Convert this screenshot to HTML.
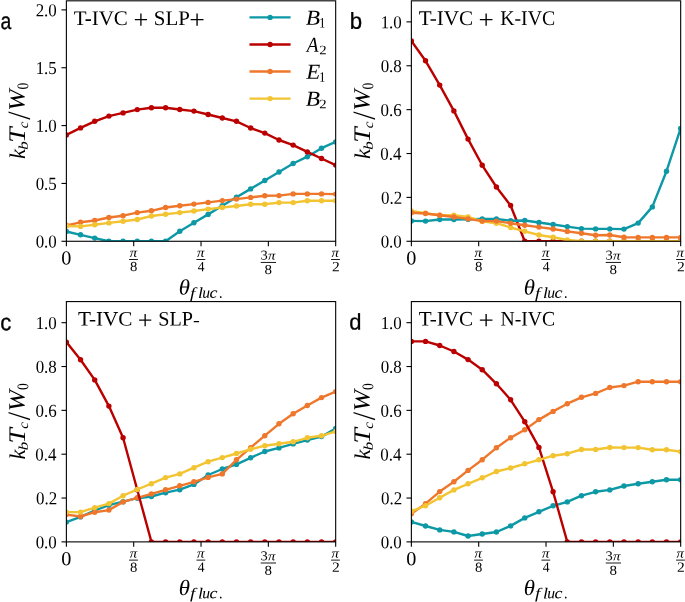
<!DOCTYPE html>
<html><head><meta charset="utf-8"><style>html,body{margin:0;padding:0;background:#fff;} svg{display:block;will-change:transform;} text{text-rendering:geometricPrecision;}</style></head>
<body><svg width="685" height="602" viewBox="0 0 685 602">
<defs><clipPath id="cpa"><rect x="66.38" y="0.82" width="269.30" height="240.46"/></clipPath><clipPath id="cpb"><rect x="411.37" y="0.82" width="269.30" height="240.46"/></clipPath><clipPath id="cpc"><rect x="66.38" y="301.58" width="269.30" height="240.30"/></clipPath><clipPath id="cpd"><rect x="411.37" y="301.58" width="269.30" height="240.30"/></clipPath></defs>
<rect width="685" height="602" fill="#fff"/>
<g clip-path="url(#cpa)">
<polyline points="66.38,231.50 80.55,234.80 94.73,238.10 108.90,241.28 123.07,241.28 137.25,241.28 151.42,241.28 165.60,241.28 179.77,231.20 193.94,222.80 208.12,214.40 222.29,205.80 236.46,197.30 250.64,188.90 264.81,180.50 278.99,172.00 293.16,163.50 307.33,156.70 321.51,148.20 335.68,141.90" fill="none" stroke="#0d98a6" stroke-width="2.4" stroke-linejoin="round" stroke-linecap="butt"/>
<g fill="#0d98a6"><circle cx="66.38" cy="231.50" r="2.7"/><circle cx="80.55" cy="234.80" r="2.7"/><circle cx="94.73" cy="238.10" r="2.7"/><circle cx="108.90" cy="241.28" r="2.7"/><circle cx="123.07" cy="241.28" r="2.7"/><circle cx="137.25" cy="241.28" r="2.7"/><circle cx="151.42" cy="241.28" r="2.7"/><circle cx="165.60" cy="241.28" r="2.7"/><circle cx="179.77" cy="231.20" r="2.7"/><circle cx="193.94" cy="222.80" r="2.7"/><circle cx="208.12" cy="214.40" r="2.7"/><circle cx="222.29" cy="205.80" r="2.7"/><circle cx="236.46" cy="197.30" r="2.7"/><circle cx="250.64" cy="188.90" r="2.7"/><circle cx="264.81" cy="180.50" r="2.7"/><circle cx="278.99" cy="172.00" r="2.7"/><circle cx="293.16" cy="163.50" r="2.7"/><circle cx="307.33" cy="156.70" r="2.7"/><circle cx="321.51" cy="148.20" r="2.7"/><circle cx="335.68" cy="141.90" r="2.7"/></g>
<polyline points="66.38,135.00 80.55,127.90 94.73,121.30 108.90,116.10 123.07,112.90 137.25,109.60 151.42,107.80 165.60,107.80 179.77,109.50 193.94,111.10 208.12,114.50 222.29,118.00 236.46,121.30 250.64,128.00 264.81,133.10 278.99,140.00 293.16,145.10 307.33,151.90 321.51,158.50 335.68,165.10" fill="none" stroke="#bb0000" stroke-width="2.4" stroke-linejoin="round" stroke-linecap="butt"/>
<g fill="#bb0000"><circle cx="66.38" cy="135.00" r="2.7"/><circle cx="80.55" cy="127.90" r="2.7"/><circle cx="94.73" cy="121.30" r="2.7"/><circle cx="108.90" cy="116.10" r="2.7"/><circle cx="123.07" cy="112.90" r="2.7"/><circle cx="137.25" cy="109.60" r="2.7"/><circle cx="151.42" cy="107.80" r="2.7"/><circle cx="165.60" cy="107.80" r="2.7"/><circle cx="179.77" cy="109.50" r="2.7"/><circle cx="193.94" cy="111.10" r="2.7"/><circle cx="208.12" cy="114.50" r="2.7"/><circle cx="222.29" cy="118.00" r="2.7"/><circle cx="236.46" cy="121.30" r="2.7"/><circle cx="250.64" cy="128.00" r="2.7"/><circle cx="264.81" cy="133.10" r="2.7"/><circle cx="278.99" cy="140.00" r="2.7"/><circle cx="293.16" cy="145.10" r="2.7"/><circle cx="307.33" cy="151.90" r="2.7"/><circle cx="321.51" cy="158.50" r="2.7"/><circle cx="335.68" cy="165.10" r="2.7"/></g>
<polyline points="66.38,225.30 80.55,222.30 94.73,220.50 108.90,217.50 123.07,215.70 137.25,212.60 151.42,210.80 165.60,207.50 179.77,205.70 193.94,204.10 208.12,202.40 222.29,200.60 236.46,199.10 250.64,197.40 264.81,195.70 278.99,195.60 293.16,193.90 307.33,193.90 321.51,193.90 335.68,194.10" fill="none" stroke="#ef772b" stroke-width="2.4" stroke-linejoin="round" stroke-linecap="butt"/>
<g fill="#ef772b"><circle cx="66.38" cy="225.30" r="2.7"/><circle cx="80.55" cy="222.30" r="2.7"/><circle cx="94.73" cy="220.50" r="2.7"/><circle cx="108.90" cy="217.50" r="2.7"/><circle cx="123.07" cy="215.70" r="2.7"/><circle cx="137.25" cy="212.60" r="2.7"/><circle cx="151.42" cy="210.80" r="2.7"/><circle cx="165.60" cy="207.50" r="2.7"/><circle cx="179.77" cy="205.70" r="2.7"/><circle cx="193.94" cy="204.10" r="2.7"/><circle cx="208.12" cy="202.40" r="2.7"/><circle cx="222.29" cy="200.60" r="2.7"/><circle cx="236.46" cy="199.10" r="2.7"/><circle cx="250.64" cy="197.40" r="2.7"/><circle cx="264.81" cy="195.70" r="2.7"/><circle cx="278.99" cy="195.60" r="2.7"/><circle cx="293.16" cy="193.90" r="2.7"/><circle cx="307.33" cy="193.90" r="2.7"/><circle cx="321.51" cy="193.90" r="2.7"/><circle cx="335.68" cy="194.10" r="2.7"/></g>
<polyline points="66.38,226.00 80.55,226.40 94.73,224.80 108.90,222.90 123.07,221.30 137.25,219.50 151.42,216.00 165.60,214.30 179.77,212.60 193.94,211.00 208.12,209.10 222.29,207.50 236.46,206.00 250.64,204.20 264.81,204.20 278.99,202.60 293.16,202.60 307.33,200.70 321.51,200.70 335.68,200.70" fill="none" stroke="#f3c432" stroke-width="2.4" stroke-linejoin="round" stroke-linecap="butt"/>
<g fill="#f3c432"><circle cx="66.38" cy="226.00" r="2.7"/><circle cx="80.55" cy="226.40" r="2.7"/><circle cx="94.73" cy="224.80" r="2.7"/><circle cx="108.90" cy="222.90" r="2.7"/><circle cx="123.07" cy="221.30" r="2.7"/><circle cx="137.25" cy="219.50" r="2.7"/><circle cx="151.42" cy="216.00" r="2.7"/><circle cx="165.60" cy="214.30" r="2.7"/><circle cx="179.77" cy="212.60" r="2.7"/><circle cx="193.94" cy="211.00" r="2.7"/><circle cx="208.12" cy="209.10" r="2.7"/><circle cx="222.29" cy="207.50" r="2.7"/><circle cx="236.46" cy="206.00" r="2.7"/><circle cx="250.64" cy="204.20" r="2.7"/><circle cx="264.81" cy="204.20" r="2.7"/><circle cx="278.99" cy="202.60" r="2.7"/><circle cx="293.16" cy="202.60" r="2.7"/><circle cx="307.33" cy="200.70" r="2.7"/><circle cx="321.51" cy="200.70" r="2.7"/><circle cx="335.68" cy="200.70" r="2.7"/></g>
</g>
<rect x="66.38" y="0.82" width="269.30" height="240.46" fill="none" stroke="#000" stroke-width="1.1"/>
<line x1="61.48" y1="241.28" x2="66.38" y2="241.28" stroke="#000" stroke-width="1.1"/>
<line x1="61.48" y1="183.43" x2="66.38" y2="183.43" stroke="#000" stroke-width="1.1"/>
<line x1="61.48" y1="125.58" x2="66.38" y2="125.58" stroke="#000" stroke-width="1.1"/>
<line x1="61.48" y1="67.73" x2="66.38" y2="67.73" stroke="#000" stroke-width="1.1"/>
<line x1="61.48" y1="9.88" x2="66.38" y2="9.88" stroke="#000" stroke-width="1.1"/>
<line x1="66.38" y1="241.28" x2="66.38" y2="246.18" stroke="#000" stroke-width="1.1"/>
<line x1="133.70" y1="241.28" x2="133.70" y2="246.18" stroke="#000" stroke-width="1.1"/>
<line x1="201.03" y1="241.28" x2="201.03" y2="246.18" stroke="#000" stroke-width="1.1"/>
<line x1="268.36" y1="241.28" x2="268.36" y2="246.18" stroke="#000" stroke-width="1.1"/>
<line x1="335.68" y1="241.28" x2="335.68" y2="246.18" stroke="#000" stroke-width="1.1"/>
<g clip-path="url(#cpb)">
<polyline points="411.37,41.00 425.54,60.80 439.72,85.10 453.89,110.90 468.06,139.10 482.24,165.30 496.41,187.00 510.59,205.50 524.76,241.28 538.93,241.28 553.11,241.28 567.28,241.28 581.45,241.28 595.63,241.28 609.80,241.28 623.98,241.28 638.15,241.28 652.32,241.28 666.50,241.28 680.67,241.28" fill="none" stroke="#bb0000" stroke-width="2.4" stroke-linejoin="round" stroke-linecap="butt"/>
<g fill="#bb0000"><circle cx="411.37" cy="41.00" r="2.7"/><circle cx="425.54" cy="60.80" r="2.7"/><circle cx="439.72" cy="85.10" r="2.7"/><circle cx="453.89" cy="110.90" r="2.7"/><circle cx="468.06" cy="139.10" r="2.7"/><circle cx="482.24" cy="165.30" r="2.7"/><circle cx="496.41" cy="187.00" r="2.7"/><circle cx="510.59" cy="205.50" r="2.7"/><circle cx="524.76" cy="241.28" r="2.7"/><circle cx="538.93" cy="241.28" r="2.7"/><circle cx="553.11" cy="241.28" r="2.7"/><circle cx="567.28" cy="241.28" r="2.7"/><circle cx="581.45" cy="241.28" r="2.7"/><circle cx="595.63" cy="241.28" r="2.7"/><circle cx="609.80" cy="241.28" r="2.7"/><circle cx="623.98" cy="241.28" r="2.7"/><circle cx="638.15" cy="241.28" r="2.7"/><circle cx="652.32" cy="241.28" r="2.7"/><circle cx="666.50" cy="241.28" r="2.7"/><circle cx="680.67" cy="241.28" r="2.7"/></g>
<polyline points="411.37,220.90 425.54,221.10 439.72,219.50 453.89,219.50 468.06,219.20 482.24,219.00 496.41,219.00 510.59,220.70 524.76,220.50 538.93,222.50 553.11,224.50 567.28,226.60 581.45,228.60 595.63,228.90 609.80,228.90 623.98,229.10 638.15,223.10 652.32,206.90 666.50,171.20 680.67,128.50" fill="none" stroke="#0d98a6" stroke-width="2.4" stroke-linejoin="round" stroke-linecap="butt"/>
<g fill="#0d98a6"><circle cx="411.37" cy="220.90" r="2.7"/><circle cx="425.54" cy="221.10" r="2.7"/><circle cx="439.72" cy="219.50" r="2.7"/><circle cx="453.89" cy="219.50" r="2.7"/><circle cx="468.06" cy="219.20" r="2.7"/><circle cx="482.24" cy="219.00" r="2.7"/><circle cx="496.41" cy="219.00" r="2.7"/><circle cx="510.59" cy="220.70" r="2.7"/><circle cx="524.76" cy="220.50" r="2.7"/><circle cx="538.93" cy="222.50" r="2.7"/><circle cx="553.11" cy="224.50" r="2.7"/><circle cx="567.28" cy="226.60" r="2.7"/><circle cx="581.45" cy="228.60" r="2.7"/><circle cx="595.63" cy="228.90" r="2.7"/><circle cx="609.80" cy="228.90" r="2.7"/><circle cx="623.98" cy="229.10" r="2.7"/><circle cx="638.15" cy="223.10" r="2.7"/><circle cx="652.32" cy="206.90" r="2.7"/><circle cx="666.50" cy="171.20" r="2.7"/><circle cx="680.67" cy="128.50" r="2.7"/></g>
<polyline points="411.37,210.90 425.54,213.20 439.72,215.20 453.89,215.30 468.06,217.00 482.24,221.40 496.41,223.20 510.59,227.50 524.76,231.30 538.93,235.00 553.11,237.20 567.28,240.00 581.45,241.28 595.63,241.28 609.80,241.28 623.98,241.28 638.15,241.28 652.32,241.28 666.50,241.28 680.67,241.28" fill="none" stroke="#f3c432" stroke-width="2.4" stroke-linejoin="round" stroke-linecap="butt"/>
<g fill="#f3c432"><circle cx="411.37" cy="210.90" r="2.7"/><circle cx="425.54" cy="213.20" r="2.7"/><circle cx="439.72" cy="215.20" r="2.7"/><circle cx="453.89" cy="215.30" r="2.7"/><circle cx="468.06" cy="217.00" r="2.7"/><circle cx="482.24" cy="221.40" r="2.7"/><circle cx="496.41" cy="223.20" r="2.7"/><circle cx="510.59" cy="227.50" r="2.7"/><circle cx="524.76" cy="231.30" r="2.7"/><circle cx="538.93" cy="235.00" r="2.7"/><circle cx="553.11" cy="237.20" r="2.7"/><circle cx="567.28" cy="240.00" r="2.7"/><circle cx="581.45" cy="241.28" r="2.7"/><circle cx="595.63" cy="241.28" r="2.7"/><circle cx="609.80" cy="241.28" r="2.7"/><circle cx="623.98" cy="241.28" r="2.7"/><circle cx="638.15" cy="241.28" r="2.7"/><circle cx="652.32" cy="241.28" r="2.7"/><circle cx="666.50" cy="241.28" r="2.7"/><circle cx="680.67" cy="241.28" r="2.7"/></g>
<polyline points="411.37,212.75 425.54,213.50 439.72,215.30 453.89,217.00 468.06,218.90 482.24,221.10 496.41,221.10 510.59,223.20 524.76,225.20 538.93,227.10 553.11,229.00 567.28,231.40 581.45,233.20 595.63,235.20 609.80,235.00 623.98,237.30 638.15,237.40 652.32,237.40 666.50,237.40 680.67,237.40" fill="none" stroke="#ef772b" stroke-width="2.4" stroke-linejoin="round" stroke-linecap="butt"/>
<g fill="#ef772b"><circle cx="411.37" cy="212.75" r="2.7"/><circle cx="425.54" cy="213.50" r="2.7"/><circle cx="439.72" cy="215.30" r="2.7"/><circle cx="453.89" cy="217.00" r="2.7"/><circle cx="468.06" cy="218.90" r="2.7"/><circle cx="482.24" cy="221.10" r="2.7"/><circle cx="496.41" cy="221.10" r="2.7"/><circle cx="510.59" cy="223.20" r="2.7"/><circle cx="524.76" cy="225.20" r="2.7"/><circle cx="538.93" cy="227.10" r="2.7"/><circle cx="553.11" cy="229.00" r="2.7"/><circle cx="567.28" cy="231.40" r="2.7"/><circle cx="581.45" cy="233.20" r="2.7"/><circle cx="595.63" cy="235.20" r="2.7"/><circle cx="609.80" cy="235.00" r="2.7"/><circle cx="623.98" cy="237.30" r="2.7"/><circle cx="638.15" cy="237.40" r="2.7"/><circle cx="652.32" cy="237.40" r="2.7"/><circle cx="666.50" cy="237.40" r="2.7"/><circle cx="680.67" cy="237.40" r="2.7"/></g>
</g>
<rect x="411.37" y="0.82" width="269.30" height="240.46" fill="none" stroke="#000" stroke-width="1.1"/>
<line x1="406.47" y1="241.28" x2="411.37" y2="241.28" stroke="#000" stroke-width="1.1"/>
<line x1="406.47" y1="197.40" x2="411.37" y2="197.40" stroke="#000" stroke-width="1.1"/>
<line x1="406.47" y1="153.52" x2="411.37" y2="153.52" stroke="#000" stroke-width="1.1"/>
<line x1="406.47" y1="109.64" x2="411.37" y2="109.64" stroke="#000" stroke-width="1.1"/>
<line x1="406.47" y1="65.76" x2="411.37" y2="65.76" stroke="#000" stroke-width="1.1"/>
<line x1="406.47" y1="21.88" x2="411.37" y2="21.88" stroke="#000" stroke-width="1.1"/>
<line x1="411.37" y1="241.28" x2="411.37" y2="246.18" stroke="#000" stroke-width="1.1"/>
<line x1="478.69" y1="241.28" x2="478.69" y2="246.18" stroke="#000" stroke-width="1.1"/>
<line x1="546.02" y1="241.28" x2="546.02" y2="246.18" stroke="#000" stroke-width="1.1"/>
<line x1="613.35" y1="241.28" x2="613.35" y2="246.18" stroke="#000" stroke-width="1.1"/>
<line x1="680.67" y1="241.28" x2="680.67" y2="246.18" stroke="#000" stroke-width="1.1"/>
<g clip-path="url(#cpc)">
<polyline points="66.38,522.10 80.55,516.90 94.73,510.50 108.90,505.20 123.07,501.70 137.25,498.20 151.42,496.50 165.60,492.70 179.77,489.70 193.94,484.40 208.12,475.00 222.29,469.00 236.46,464.40 250.64,457.80 264.81,451.50 278.99,447.90 293.16,443.90 307.33,440.10 321.51,436.60 335.68,428.50" fill="none" stroke="#0d98a6" stroke-width="2.4" stroke-linejoin="round" stroke-linecap="butt"/>
<g fill="#0d98a6"><circle cx="66.38" cy="522.10" r="2.7"/><circle cx="80.55" cy="516.90" r="2.7"/><circle cx="94.73" cy="510.50" r="2.7"/><circle cx="108.90" cy="505.20" r="2.7"/><circle cx="123.07" cy="501.70" r="2.7"/><circle cx="137.25" cy="498.20" r="2.7"/><circle cx="151.42" cy="496.50" r="2.7"/><circle cx="165.60" cy="492.70" r="2.7"/><circle cx="179.77" cy="489.70" r="2.7"/><circle cx="193.94" cy="484.40" r="2.7"/><circle cx="208.12" cy="475.00" r="2.7"/><circle cx="222.29" cy="469.00" r="2.7"/><circle cx="236.46" cy="464.40" r="2.7"/><circle cx="250.64" cy="457.80" r="2.7"/><circle cx="264.81" cy="451.50" r="2.7"/><circle cx="278.99" cy="447.90" r="2.7"/><circle cx="293.16" cy="443.90" r="2.7"/><circle cx="307.33" cy="440.10" r="2.7"/><circle cx="321.51" cy="436.60" r="2.7"/><circle cx="335.68" cy="428.50" r="2.7"/></g>
<polyline points="66.38,514.60 80.55,516.50 94.73,512.20 108.90,510.10 123.07,501.90 137.25,497.80 151.42,493.90 165.60,489.80 179.77,485.80 193.94,481.80 208.12,477.40 222.29,473.90 236.46,459.80 250.64,447.60 264.81,435.70 278.99,423.80 293.16,413.70 307.33,405.50 321.51,397.60 335.68,391.60" fill="none" stroke="#ef772b" stroke-width="2.4" stroke-linejoin="round" stroke-linecap="butt"/>
<g fill="#ef772b"><circle cx="66.38" cy="514.60" r="2.7"/><circle cx="80.55" cy="516.50" r="2.7"/><circle cx="94.73" cy="512.20" r="2.7"/><circle cx="108.90" cy="510.10" r="2.7"/><circle cx="123.07" cy="501.90" r="2.7"/><circle cx="137.25" cy="497.80" r="2.7"/><circle cx="151.42" cy="493.90" r="2.7"/><circle cx="165.60" cy="489.80" r="2.7"/><circle cx="179.77" cy="485.80" r="2.7"/><circle cx="193.94" cy="481.80" r="2.7"/><circle cx="208.12" cy="477.40" r="2.7"/><circle cx="222.29" cy="473.90" r="2.7"/><circle cx="236.46" cy="459.80" r="2.7"/><circle cx="250.64" cy="447.60" r="2.7"/><circle cx="264.81" cy="435.70" r="2.7"/><circle cx="278.99" cy="423.80" r="2.7"/><circle cx="293.16" cy="413.70" r="2.7"/><circle cx="307.33" cy="405.50" r="2.7"/><circle cx="321.51" cy="397.60" r="2.7"/><circle cx="335.68" cy="391.60" r="2.7"/></g>
<polyline points="66.38,342.10 80.55,359.80 94.73,379.90 108.90,406.10 123.07,437.70 137.25,489.80 151.42,541.88 165.60,541.88 179.77,541.88 193.94,541.88 208.12,541.88 222.29,541.88 236.46,541.88 250.64,541.88 264.81,541.88 278.99,541.88 293.16,541.88 307.33,541.88 321.51,541.88 335.68,541.88" fill="none" stroke="#bb0000" stroke-width="2.4" stroke-linejoin="round" stroke-linecap="butt"/>
<g fill="#bb0000"><circle cx="66.38" cy="342.10" r="2.7"/><circle cx="80.55" cy="359.80" r="2.7"/><circle cx="94.73" cy="379.90" r="2.7"/><circle cx="108.90" cy="406.10" r="2.7"/><circle cx="123.07" cy="437.70" r="2.7"/><circle cx="137.25" cy="489.80" r="2.7"/><circle cx="151.42" cy="541.88" r="2.7"/><circle cx="165.60" cy="541.88" r="2.7"/><circle cx="179.77" cy="541.88" r="2.7"/><circle cx="193.94" cy="541.88" r="2.7"/><circle cx="208.12" cy="541.88" r="2.7"/><circle cx="222.29" cy="541.88" r="2.7"/><circle cx="236.46" cy="541.88" r="2.7"/><circle cx="250.64" cy="541.88" r="2.7"/><circle cx="264.81" cy="541.88" r="2.7"/><circle cx="278.99" cy="541.88" r="2.7"/><circle cx="293.16" cy="541.88" r="2.7"/><circle cx="307.33" cy="541.88" r="2.7"/><circle cx="321.51" cy="541.88" r="2.7"/><circle cx="335.68" cy="541.88" r="2.7"/></g>
<polyline points="66.38,512.10 80.55,512.10 94.73,507.60 108.90,503.60 123.07,495.70 137.25,489.50 151.42,483.70 165.60,477.60 179.77,473.90 193.94,467.70 208.12,461.70 222.29,457.60 236.46,453.50 250.64,449.30 264.81,445.70 278.99,443.80 293.16,441.80 307.33,437.80 321.51,435.80 335.68,431.40" fill="none" stroke="#f3c432" stroke-width="2.4" stroke-linejoin="round" stroke-linecap="butt"/>
<g fill="#f3c432"><circle cx="66.38" cy="512.10" r="2.7"/><circle cx="80.55" cy="512.10" r="2.7"/><circle cx="94.73" cy="507.60" r="2.7"/><circle cx="108.90" cy="503.60" r="2.7"/><circle cx="123.07" cy="495.70" r="2.7"/><circle cx="137.25" cy="489.50" r="2.7"/><circle cx="151.42" cy="483.70" r="2.7"/><circle cx="165.60" cy="477.60" r="2.7"/><circle cx="179.77" cy="473.90" r="2.7"/><circle cx="193.94" cy="467.70" r="2.7"/><circle cx="208.12" cy="461.70" r="2.7"/><circle cx="222.29" cy="457.60" r="2.7"/><circle cx="236.46" cy="453.50" r="2.7"/><circle cx="250.64" cy="449.30" r="2.7"/><circle cx="264.81" cy="445.70" r="2.7"/><circle cx="278.99" cy="443.80" r="2.7"/><circle cx="293.16" cy="441.80" r="2.7"/><circle cx="307.33" cy="437.80" r="2.7"/><circle cx="321.51" cy="435.80" r="2.7"/><circle cx="335.68" cy="431.40" r="2.7"/></g>
</g>
<rect x="66.38" y="301.58" width="269.30" height="240.30" fill="none" stroke="#000" stroke-width="1.1"/>
<line x1="61.48" y1="541.88" x2="66.38" y2="541.88" stroke="#000" stroke-width="1.1"/>
<line x1="61.48" y1="498.04" x2="66.38" y2="498.04" stroke="#000" stroke-width="1.1"/>
<line x1="61.48" y1="454.20" x2="66.38" y2="454.20" stroke="#000" stroke-width="1.1"/>
<line x1="61.48" y1="410.36" x2="66.38" y2="410.36" stroke="#000" stroke-width="1.1"/>
<line x1="61.48" y1="366.52" x2="66.38" y2="366.52" stroke="#000" stroke-width="1.1"/>
<line x1="61.48" y1="322.68" x2="66.38" y2="322.68" stroke="#000" stroke-width="1.1"/>
<line x1="66.38" y1="541.88" x2="66.38" y2="546.78" stroke="#000" stroke-width="1.1"/>
<line x1="133.70" y1="541.88" x2="133.70" y2="546.78" stroke="#000" stroke-width="1.1"/>
<line x1="201.03" y1="541.88" x2="201.03" y2="546.78" stroke="#000" stroke-width="1.1"/>
<line x1="268.36" y1="541.88" x2="268.36" y2="546.78" stroke="#000" stroke-width="1.1"/>
<line x1="335.68" y1="541.88" x2="335.68" y2="546.78" stroke="#000" stroke-width="1.1"/>
<g clip-path="url(#cpd)">
<polyline points="411.37,521.95 425.54,526.00 439.72,529.90 453.89,531.90 468.06,536.00 482.24,534.00 496.41,532.00 510.59,525.90 524.76,517.90 538.93,511.80 553.11,505.80 567.28,501.90 581.45,495.70 595.63,491.80 609.80,489.90 623.98,486.00 638.15,483.70 652.32,481.80 666.50,479.70 680.67,479.70" fill="none" stroke="#0d98a6" stroke-width="2.4" stroke-linejoin="round" stroke-linecap="butt"/>
<g fill="#0d98a6"><circle cx="411.37" cy="521.95" r="2.7"/><circle cx="425.54" cy="526.00" r="2.7"/><circle cx="439.72" cy="529.90" r="2.7"/><circle cx="453.89" cy="531.90" r="2.7"/><circle cx="468.06" cy="536.00" r="2.7"/><circle cx="482.24" cy="534.00" r="2.7"/><circle cx="496.41" cy="532.00" r="2.7"/><circle cx="510.59" cy="525.90" r="2.7"/><circle cx="524.76" cy="517.90" r="2.7"/><circle cx="538.93" cy="511.80" r="2.7"/><circle cx="553.11" cy="505.80" r="2.7"/><circle cx="567.28" cy="501.90" r="2.7"/><circle cx="581.45" cy="495.70" r="2.7"/><circle cx="595.63" cy="491.80" r="2.7"/><circle cx="609.80" cy="489.90" r="2.7"/><circle cx="623.98" cy="486.00" r="2.7"/><circle cx="638.15" cy="483.70" r="2.7"/><circle cx="652.32" cy="481.80" r="2.7"/><circle cx="666.50" cy="479.70" r="2.7"/><circle cx="680.67" cy="479.70" r="2.7"/></g>
<polyline points="411.37,513.80 425.54,503.60 439.72,491.60 453.89,481.80 468.06,470.40 482.24,459.70 496.41,447.80 510.59,437.70 524.76,429.80 538.93,419.60 553.11,411.40 567.28,403.70 581.45,397.30 595.63,393.40 609.80,387.50 623.98,385.60 638.15,381.70 652.32,381.70 666.50,381.70 680.67,381.70" fill="none" stroke="#ef772b" stroke-width="2.4" stroke-linejoin="round" stroke-linecap="butt"/>
<g fill="#ef772b"><circle cx="411.37" cy="513.80" r="2.7"/><circle cx="425.54" cy="503.60" r="2.7"/><circle cx="439.72" cy="491.60" r="2.7"/><circle cx="453.89" cy="481.80" r="2.7"/><circle cx="468.06" cy="470.40" r="2.7"/><circle cx="482.24" cy="459.70" r="2.7"/><circle cx="496.41" cy="447.80" r="2.7"/><circle cx="510.59" cy="437.70" r="2.7"/><circle cx="524.76" cy="429.80" r="2.7"/><circle cx="538.93" cy="419.60" r="2.7"/><circle cx="553.11" cy="411.40" r="2.7"/><circle cx="567.28" cy="403.70" r="2.7"/><circle cx="581.45" cy="397.30" r="2.7"/><circle cx="595.63" cy="393.40" r="2.7"/><circle cx="609.80" cy="387.50" r="2.7"/><circle cx="623.98" cy="385.60" r="2.7"/><circle cx="638.15" cy="381.70" r="2.7"/><circle cx="652.32" cy="381.70" r="2.7"/><circle cx="666.50" cy="381.70" r="2.7"/><circle cx="680.67" cy="381.70" r="2.7"/></g>
<polyline points="411.37,341.40 425.54,341.40 439.72,345.50 453.89,351.50 468.06,359.60 482.24,369.70 496.41,383.80 510.59,399.80 524.76,421.70 538.93,447.40 553.11,491.80 567.28,541.88 581.45,541.88 595.63,541.88 609.80,541.88 623.98,541.88 638.15,541.88 652.32,541.88 666.50,541.88 680.67,541.88" fill="none" stroke="#bb0000" stroke-width="2.4" stroke-linejoin="round" stroke-linecap="butt"/>
<g fill="#bb0000"><circle cx="411.37" cy="341.40" r="2.7"/><circle cx="425.54" cy="341.40" r="2.7"/><circle cx="439.72" cy="345.50" r="2.7"/><circle cx="453.89" cy="351.50" r="2.7"/><circle cx="468.06" cy="359.60" r="2.7"/><circle cx="482.24" cy="369.70" r="2.7"/><circle cx="496.41" cy="383.80" r="2.7"/><circle cx="510.59" cy="399.80" r="2.7"/><circle cx="524.76" cy="421.70" r="2.7"/><circle cx="538.93" cy="447.40" r="2.7"/><circle cx="553.11" cy="491.80" r="2.7"/><circle cx="567.28" cy="541.88" r="2.7"/><circle cx="581.45" cy="541.88" r="2.7"/><circle cx="595.63" cy="541.88" r="2.7"/><circle cx="609.80" cy="541.88" r="2.7"/><circle cx="623.98" cy="541.88" r="2.7"/><circle cx="638.15" cy="541.88" r="2.7"/><circle cx="652.32" cy="541.88" r="2.7"/><circle cx="666.50" cy="541.88" r="2.7"/><circle cx="680.67" cy="541.88" r="2.7"/></g>
<polyline points="411.37,511.30 425.54,505.70 439.72,497.80 453.89,489.90 468.06,483.80 482.24,477.80 496.41,471.50 510.59,468.00 524.76,463.80 538.93,459.80 553.11,455.70 567.28,453.70 581.45,449.50 595.63,449.50 609.80,447.50 623.98,447.60 638.15,447.60 652.32,449.80 666.50,449.80 680.67,451.60" fill="none" stroke="#f3c432" stroke-width="2.4" stroke-linejoin="round" stroke-linecap="butt"/>
<g fill="#f3c432"><circle cx="411.37" cy="511.30" r="2.7"/><circle cx="425.54" cy="505.70" r="2.7"/><circle cx="439.72" cy="497.80" r="2.7"/><circle cx="453.89" cy="489.90" r="2.7"/><circle cx="468.06" cy="483.80" r="2.7"/><circle cx="482.24" cy="477.80" r="2.7"/><circle cx="496.41" cy="471.50" r="2.7"/><circle cx="510.59" cy="468.00" r="2.7"/><circle cx="524.76" cy="463.80" r="2.7"/><circle cx="538.93" cy="459.80" r="2.7"/><circle cx="553.11" cy="455.70" r="2.7"/><circle cx="567.28" cy="453.70" r="2.7"/><circle cx="581.45" cy="449.50" r="2.7"/><circle cx="595.63" cy="449.50" r="2.7"/><circle cx="609.80" cy="447.50" r="2.7"/><circle cx="623.98" cy="447.60" r="2.7"/><circle cx="638.15" cy="447.60" r="2.7"/><circle cx="652.32" cy="449.80" r="2.7"/><circle cx="666.50" cy="449.80" r="2.7"/><circle cx="680.67" cy="451.60" r="2.7"/></g>
</g>
<rect x="411.37" y="301.58" width="269.30" height="240.30" fill="none" stroke="#000" stroke-width="1.1"/>
<line x1="406.47" y1="541.88" x2="411.37" y2="541.88" stroke="#000" stroke-width="1.1"/>
<line x1="406.47" y1="498.04" x2="411.37" y2="498.04" stroke="#000" stroke-width="1.1"/>
<line x1="406.47" y1="454.20" x2="411.37" y2="454.20" stroke="#000" stroke-width="1.1"/>
<line x1="406.47" y1="410.36" x2="411.37" y2="410.36" stroke="#000" stroke-width="1.1"/>
<line x1="406.47" y1="366.52" x2="411.37" y2="366.52" stroke="#000" stroke-width="1.1"/>
<line x1="406.47" y1="322.68" x2="411.37" y2="322.68" stroke="#000" stroke-width="1.1"/>
<line x1="411.37" y1="541.88" x2="411.37" y2="546.78" stroke="#000" stroke-width="1.1"/>
<line x1="478.69" y1="541.88" x2="478.69" y2="546.78" stroke="#000" stroke-width="1.1"/>
<line x1="546.02" y1="541.88" x2="546.02" y2="546.78" stroke="#000" stroke-width="1.1"/>
<line x1="613.35" y1="541.88" x2="613.35" y2="546.78" stroke="#000" stroke-width="1.1"/>
<line x1="680.67" y1="541.88" x2="680.67" y2="546.78" stroke="#000" stroke-width="1.1"/>
<text transform="matrix(0.8093,0.0005,0,0.9848,0.473,29.014)" font-family="'Liberation Sans', sans-serif" font-size="24" fill="#000" stroke="#000" stroke-width="0.3">a</text>
<text transform="matrix(0.9259,0.0005,0,0.9580,349.706,28.820)" font-family="'Liberation Sans', sans-serif" font-size="24" fill="#000" stroke="#000" stroke-width="0.3">b</text>
<text transform="matrix(0.9291,0.0005,0,0.9697,0.358,330.217)" font-family="'Liberation Sans', sans-serif" font-size="24" fill="#000" stroke="#000" stroke-width="0.3">c</text>
<text transform="matrix(0.9158,0.0005,0,0.9347,349.271,329.514)" font-family="'Liberation Sans', sans-serif" font-size="24" fill="#000" stroke="#000" stroke-width="0.3">d</text>
<text transform="matrix(1.0243,0.0005,0,1.0128,73.785,25.100)" font-family="'Liberation Serif', serif" font-size="20.5" fill="#000">T-IVC</text>
<text transform="matrix(1.2798,0.0005,0,1.2818,133.388,28.346)" font-family="'Liberation Serif', serif" font-size="20.5" fill="#000">+</text>
<text transform="matrix(1.0208,0.0005,0,1.0128,153.740,25.100)" font-family="'Liberation Serif', serif" font-size="20.5" fill="#000">SLP</text>
<text transform="matrix(1.3533,0.0005,0,1.2818,189.313,28.346)" font-family="'Liberation Serif', serif" font-size="20.5" fill="#000">+</text>
<text transform="matrix(1.0301,0.0005,0,1.0203,418.783,25.100)" font-family="'Liberation Serif', serif" font-size="20.5" fill="#000">T-IVC</text>
<text transform="matrix(1.3218,0.0005,0,1.2818,478.545,28.346)" font-family="'Liberation Serif', serif" font-size="20.5" fill="#000">+</text>
<text transform="matrix(0.9648,0.0005,0,1.0203,500.206,25.100)" font-family="'Liberation Serif', serif" font-size="20.5" fill="#000">K-IVC</text>
<text transform="matrix(1.0340,0.0005,0,0.9980,77.882,325.600)" font-family="'Liberation Serif', serif" font-size="20.5" fill="#000">T-IVC</text>
<text transform="matrix(1.2798,0.0005,0,1.2818,137.788,328.846)" font-family="'Liberation Serif', serif" font-size="20.5" fill="#000">+</text>
<text transform="matrix(0.9846,0.0005,0,0.9980,158.188,325.600)" font-family="'Liberation Serif', serif" font-size="20.5" fill="#000">SLP</text>
<text transform="matrix(0.9940,0.0005,0,0.9106,193.087,325.933)" font-family="'Liberation Serif', serif" font-size="20.5" fill="#000">-</text>
<text transform="matrix(1.0301,0.0005,0,1.0054,418.783,325.600)" font-family="'Liberation Serif', serif" font-size="20.5" fill="#000">T-IVC</text>
<text transform="matrix(1.3218,0.0005,0,1.2818,478.545,328.846)" font-family="'Liberation Serif', serif" font-size="20.5" fill="#000">+</text>
<text transform="matrix(0.9612,0.0005,0,1.0054,500.407,325.600)" font-family="'Liberation Serif', serif" font-size="20.5" fill="#000">N-IVC</text>
<text transform="matrix(1.1166,0.0005,0,1.0142,305.766,24.750)" font-family="'Liberation Serif', serif" font-style="italic" font-size="21" fill="#000">B</text>
<text transform="matrix(0.9256,0.0005,0,1.0173,319.099,27.600)" font-family="'Liberation Serif', serif" font-size="14" fill="#000">1</text>
<text transform="matrix(0.9204,0.0005,0,1.0065,306.863,51.674)" font-family="'Liberation Serif', serif" font-style="italic" font-size="21" fill="#000">A</text>
<text transform="matrix(1.0582,0.0005,0,0.9307,319.307,54.230)" font-family="'Liberation Serif', serif" font-size="14" fill="#000">2</text>
<text transform="matrix(1.0929,0.0005,0,1.0142,306.244,78.810)" font-family="'Liberation Serif', serif" font-style="italic" font-size="21" fill="#000">E</text>
<text transform="matrix(0.9256,0.0005,0,1.0173,319.099,81.660)" font-family="'Liberation Serif', serif" font-size="14" fill="#000">1</text>
<text transform="matrix(1.1166,0.0005,0,1.0142,305.766,105.840)" font-family="'Liberation Serif', serif" font-style="italic" font-size="21" fill="#000">B</text>
<text transform="matrix(1.0582,0.0005,0,0.9307,319.307,108.290)" font-family="'Liberation Serif', serif" font-size="14" fill="#000">2</text>
<text transform="matrix(0.9313,0.0005,0,1.0019,35.637,247.556)" font-family="'Liberation Serif', serif" font-size="18.2" fill="#000">0.0</text>
<text transform="matrix(0.9313,0.0005,0,1.0019,35.637,189.706)" font-family="'Liberation Serif', serif" font-size="18.2" fill="#000">0.5</text>
<text transform="matrix(0.9313,0.0005,0,1.0019,35.637,131.856)" font-family="'Liberation Serif', serif" font-size="18.2" fill="#000">1.0</text>
<text transform="matrix(0.9313,0.0005,0,1.0019,35.637,73.961)" font-family="'Liberation Serif', serif" font-size="18.2" fill="#000">1.5</text>
<text transform="matrix(0.9313,0.0005,0,1.0019,35.637,16.156)" font-family="'Liberation Serif', serif" font-size="18.2" fill="#000">2.0</text>
<text transform="matrix(0.9313,0.0005,0,1.0019,380.627,247.556)" font-family="'Liberation Serif', serif" font-size="18.2" fill="#000">0.0</text>
<text transform="matrix(0.9313,0.0005,0,1.0019,380.966,203.676)" font-family="'Liberation Serif', serif" font-size="18.2" fill="#000">0.2</text>
<text transform="matrix(0.9313,0.0005,0,1.0019,380.288,159.796)" font-family="'Liberation Serif', serif" font-size="18.2" fill="#000">0.4</text>
<text transform="matrix(0.9313,0.0005,0,1.0019,380.542,115.916)" font-family="'Liberation Serif', serif" font-size="18.2" fill="#000">0.6</text>
<text transform="matrix(0.9313,0.0005,0,1.0019,380.627,72.036)" font-family="'Liberation Serif', serif" font-size="18.2" fill="#000">0.8</text>
<text transform="matrix(0.9313,0.0005,0,1.0019,380.627,28.156)" font-family="'Liberation Serif', serif" font-size="18.2" fill="#000">1.0</text>
<text transform="matrix(0.9313,0.0005,0,1.0019,35.637,548.156)" font-family="'Liberation Serif', serif" font-size="18.2" fill="#000">0.0</text>
<text transform="matrix(0.9313,0.0005,0,1.0019,35.976,504.316)" font-family="'Liberation Serif', serif" font-size="18.2" fill="#000">0.2</text>
<text transform="matrix(0.9313,0.0005,0,1.0019,35.298,460.476)" font-family="'Liberation Serif', serif" font-size="18.2" fill="#000">0.4</text>
<text transform="matrix(0.9313,0.0005,0,1.0019,35.552,416.636)" font-family="'Liberation Serif', serif" font-size="18.2" fill="#000">0.6</text>
<text transform="matrix(0.9313,0.0005,0,1.0019,35.637,372.796)" font-family="'Liberation Serif', serif" font-size="18.2" fill="#000">0.8</text>
<text transform="matrix(0.9313,0.0005,0,1.0019,35.637,328.956)" font-family="'Liberation Serif', serif" font-size="18.2" fill="#000">1.0</text>
<text transform="matrix(0.9313,0.0005,0,1.0019,380.627,548.156)" font-family="'Liberation Serif', serif" font-size="18.2" fill="#000">0.0</text>
<text transform="matrix(0.9313,0.0005,0,1.0019,380.966,504.316)" font-family="'Liberation Serif', serif" font-size="18.2" fill="#000">0.2</text>
<text transform="matrix(0.9313,0.0005,0,1.0019,380.288,460.476)" font-family="'Liberation Serif', serif" font-size="18.2" fill="#000">0.4</text>
<text transform="matrix(0.9313,0.0005,0,1.0019,380.542,416.636)" font-family="'Liberation Serif', serif" font-size="18.2" fill="#000">0.6</text>
<text transform="matrix(0.9313,0.0005,0,1.0019,380.627,372.796)" font-family="'Liberation Serif', serif" font-size="18.2" fill="#000">0.8</text>
<text transform="matrix(0.9313,0.0005,0,1.0019,380.627,328.956)" font-family="'Liberation Serif', serif" font-size="18.2" fill="#000">1.0</text>
<text transform="matrix(1.0116,0.0005,0,1.0000,61.172,264.600)" font-family="'Liberation Serif', serif" font-size="20" fill="#000">0</text>
<text transform="matrix(1.0577,0.0005,0,0.9271,129.631,256.870)" font-family="'Liberation Serif', serif" font-style="italic" font-size="14" fill="#000">π</text>
<text transform="matrix(1.0465,0.0005,0,0.9841,130.092,271.062)" font-family="'Liberation Serif', serif" font-size="14" fill="#000">8</text>
<text transform="matrix(1.0577,0.0005,0,0.9271,196.956,256.870)" font-family="'Liberation Serif', serif" font-style="italic" font-size="14" fill="#000">π</text>
<text transform="matrix(0.9677,0.0005,0,1.0065,197.659,271.200)" font-family="'Liberation Serif', serif" font-size="14" fill="#000">4</text>
<text transform="matrix(1.0577,0.0005,0,0.9271,331.606,256.870)" font-family="'Liberation Serif', serif" font-style="italic" font-size="14" fill="#000">π</text>
<text transform="matrix(1.1111,0.0005,0,1.0065,331.958,271.200)" font-family="'Liberation Serif', serif" font-size="14" fill="#000">2</text>
<text transform="matrix(1.0374,0.0005,0,0.9595,260.451,259.566)" font-family="'Liberation Serif', serif" font-size="14" fill="#000">3</text>
<text transform="matrix(1.0577,0.0005,0,0.9119,267.931,259.572)" font-family="'Liberation Serif', serif" font-style="italic" font-size="14" fill="#000">π</text>
<text transform="matrix(1.0714,0.0005,0,0.9735,264.530,274.064)" font-family="'Liberation Serif', serif" font-size="14" fill="#000">8</text>
<text transform="matrix(1.0374,0.0005,0,0.9923,178.673,294.482)" font-family="'Liberation Serif', serif" font-style="italic" font-size="22" fill="#000">θ</text>
<text transform="matrix(1.2814,0.0005,0,0.9909,189.908,297.679)" font-family="'Liberation Serif', serif" font-style="italic" font-size="15" fill="#000">f</text>
<text transform="matrix(1.2033,0.0005,0,1.0264,197.898,297.900)" font-family="'Liberation Serif', serif" font-style="italic" font-size="15" fill="#000">l</text>
<text transform="matrix(1.0442,0.0005,0,1.0638,202.217,297.740)" font-family="'Liberation Serif', serif" font-style="italic" font-size="15" fill="#000">u</text>
<text transform="matrix(1.2016,0.0005,0,1.0556,209.559,297.742)" font-family="'Liberation Serif', serif" font-style="italic" font-size="15" fill="#000">c</text>
<text transform="matrix(1.0000,0.0005,0,1.0556,219.200,297.662)" font-family="'Liberation Serif', serif" font-style="italic" font-size="15" fill="#000">.</text>
<text transform="matrix(0.0005,-1.0240,1.0203,0,24.900,158.963)" font-family="'Liberation Serif', serif" font-style="italic" font-size="22" fill="#000">k</text>
<text transform="matrix(0.0005,-1.1801,0.8889,0,27.867,149.920)" font-family="'Liberation Serif', serif" font-style="italic" font-size="15" fill="#000">b</text>
<text transform="matrix(0.0005,-1.2479,1.0826,0,25.100,142.785)" font-family="'Liberation Serif', serif" font-style="italic" font-size="22" fill="#000">T</text>
<text transform="matrix(0.0005,-1.0041,0.9167,0,28.062,128.152)" font-family="'Liberation Serif', serif" font-style="italic" font-size="15" fill="#000">c</text>
<text transform="matrix(0.0005,-1.3636,1.4654,0,29.678,119.700)" font-family="'Liberation Serif', serif" font-size="22" fill="#000">/</text>
<text transform="matrix(0.0005,-1.1619,1.0583,0,24.551,110.762)" font-family="'Liberation Serif', serif" font-style="italic" font-size="22" fill="#000">W</text>
<text transform="matrix(0.0005,-0.9147,1.0864,0,28.337,89.480)" font-family="'Liberation Serif', serif" font-size="15" fill="#000">0</text>
<text transform="matrix(1.0116,0.0005,0,1.0000,406.162,264.600)" font-family="'Liberation Serif', serif" font-size="20" fill="#000">0</text>
<text transform="matrix(1.0577,0.0005,0,0.9271,474.621,256.870)" font-family="'Liberation Serif', serif" font-style="italic" font-size="14" fill="#000">π</text>
<text transform="matrix(1.0465,0.0005,0,0.9841,475.082,271.062)" font-family="'Liberation Serif', serif" font-size="14" fill="#000">8</text>
<text transform="matrix(1.0577,0.0005,0,0.9271,541.946,256.870)" font-family="'Liberation Serif', serif" font-style="italic" font-size="14" fill="#000">π</text>
<text transform="matrix(0.9677,0.0005,0,1.0065,542.649,271.200)" font-family="'Liberation Serif', serif" font-size="14" fill="#000">4</text>
<text transform="matrix(1.0577,0.0005,0,0.9271,676.596,256.870)" font-family="'Liberation Serif', serif" font-style="italic" font-size="14" fill="#000">π</text>
<text transform="matrix(1.1111,0.0005,0,1.0065,676.948,271.200)" font-family="'Liberation Serif', serif" font-size="14" fill="#000">2</text>
<text transform="matrix(1.0374,0.0005,0,0.9595,605.441,259.566)" font-family="'Liberation Serif', serif" font-size="14" fill="#000">3</text>
<text transform="matrix(1.0577,0.0005,0,0.9119,612.921,259.572)" font-family="'Liberation Serif', serif" font-style="italic" font-size="14" fill="#000">π</text>
<text transform="matrix(1.0714,0.0005,0,0.9735,609.520,274.064)" font-family="'Liberation Serif', serif" font-size="14" fill="#000">8</text>
<text transform="matrix(1.0374,0.0005,0,0.9923,523.663,294.482)" font-family="'Liberation Serif', serif" font-style="italic" font-size="22" fill="#000">θ</text>
<text transform="matrix(1.2814,0.0005,0,0.9909,534.898,297.679)" font-family="'Liberation Serif', serif" font-style="italic" font-size="15" fill="#000">f</text>
<text transform="matrix(1.2033,0.0005,0,1.0264,542.888,297.900)" font-family="'Liberation Serif', serif" font-style="italic" font-size="15" fill="#000">l</text>
<text transform="matrix(1.0442,0.0005,0,1.0638,547.207,297.740)" font-family="'Liberation Serif', serif" font-style="italic" font-size="15" fill="#000">u</text>
<text transform="matrix(1.2016,0.0005,0,1.0556,554.549,297.742)" font-family="'Liberation Serif', serif" font-style="italic" font-size="15" fill="#000">c</text>
<text transform="matrix(1.0000,0.0005,0,1.0556,564.190,297.662)" font-family="'Liberation Serif', serif" font-style="italic" font-size="15" fill="#000">.</text>
<text transform="matrix(0.0005,-1.0240,1.0203,0,369.890,158.963)" font-family="'Liberation Serif', serif" font-style="italic" font-size="22" fill="#000">k</text>
<text transform="matrix(0.0005,-1.1801,0.8889,0,372.857,149.920)" font-family="'Liberation Serif', serif" font-style="italic" font-size="15" fill="#000">b</text>
<text transform="matrix(0.0005,-1.2479,1.0826,0,370.090,142.785)" font-family="'Liberation Serif', serif" font-style="italic" font-size="22" fill="#000">T</text>
<text transform="matrix(0.0005,-1.0041,0.9167,0,373.053,128.152)" font-family="'Liberation Serif', serif" font-style="italic" font-size="15" fill="#000">c</text>
<text transform="matrix(0.0005,-1.3636,1.4654,0,374.668,119.700)" font-family="'Liberation Serif', serif" font-size="22" fill="#000">/</text>
<text transform="matrix(0.0005,-1.1619,1.0583,0,369.541,110.762)" font-family="'Liberation Serif', serif" font-style="italic" font-size="22" fill="#000">W</text>
<text transform="matrix(0.0005,-0.9147,1.0864,0,373.327,89.480)" font-family="'Liberation Serif', serif" font-size="15" fill="#000">0</text>
<text transform="matrix(1.0116,0.0005,0,1.0000,61.172,565.200)" font-family="'Liberation Serif', serif" font-size="20" fill="#000">0</text>
<text transform="matrix(1.0577,0.0005,0,0.9271,129.631,557.470)" font-family="'Liberation Serif', serif" font-style="italic" font-size="14" fill="#000">π</text>
<text transform="matrix(1.0465,0.0005,0,0.9841,130.092,571.662)" font-family="'Liberation Serif', serif" font-size="14" fill="#000">8</text>
<text transform="matrix(1.0577,0.0005,0,0.9271,196.956,557.470)" font-family="'Liberation Serif', serif" font-style="italic" font-size="14" fill="#000">π</text>
<text transform="matrix(0.9677,0.0005,0,1.0065,197.659,571.800)" font-family="'Liberation Serif', serif" font-size="14" fill="#000">4</text>
<text transform="matrix(1.0577,0.0005,0,0.9271,331.606,557.470)" font-family="'Liberation Serif', serif" font-style="italic" font-size="14" fill="#000">π</text>
<text transform="matrix(1.1111,0.0005,0,1.0065,331.958,571.800)" font-family="'Liberation Serif', serif" font-size="14" fill="#000">2</text>
<text transform="matrix(1.0374,0.0005,0,0.9595,260.451,560.166)" font-family="'Liberation Serif', serif" font-size="14" fill="#000">3</text>
<text transform="matrix(1.0577,0.0005,0,0.9119,267.931,560.172)" font-family="'Liberation Serif', serif" font-style="italic" font-size="14" fill="#000">π</text>
<text transform="matrix(1.0714,0.0005,0,0.9735,264.530,574.664)" font-family="'Liberation Serif', serif" font-size="14" fill="#000">8</text>
<text transform="matrix(1.0374,0.0005,0,0.9923,178.673,595.082)" font-family="'Liberation Serif', serif" font-style="italic" font-size="22" fill="#000">θ</text>
<text transform="matrix(1.2814,0.0005,0,0.9909,189.908,598.279)" font-family="'Liberation Serif', serif" font-style="italic" font-size="15" fill="#000">f</text>
<text transform="matrix(1.2033,0.0005,0,1.0264,197.898,598.500)" font-family="'Liberation Serif', serif" font-style="italic" font-size="15" fill="#000">l</text>
<text transform="matrix(1.0442,0.0005,0,1.0638,202.217,598.340)" font-family="'Liberation Serif', serif" font-style="italic" font-size="15" fill="#000">u</text>
<text transform="matrix(1.2016,0.0005,0,1.0556,209.559,598.342)" font-family="'Liberation Serif', serif" font-style="italic" font-size="15" fill="#000">c</text>
<text transform="matrix(1.0000,0.0005,0,1.0556,219.200,598.263)" font-family="'Liberation Serif', serif" font-style="italic" font-size="15" fill="#000">.</text>
<text transform="matrix(0.0005,-1.0240,1.0203,0,24.900,459.563)" font-family="'Liberation Serif', serif" font-style="italic" font-size="22" fill="#000">k</text>
<text transform="matrix(0.0005,-1.1801,0.8889,0,27.867,450.520)" font-family="'Liberation Serif', serif" font-style="italic" font-size="15" fill="#000">b</text>
<text transform="matrix(0.0005,-1.2479,1.0826,0,25.100,443.385)" font-family="'Liberation Serif', serif" font-style="italic" font-size="22" fill="#000">T</text>
<text transform="matrix(0.0005,-1.0041,0.9167,0,28.062,428.752)" font-family="'Liberation Serif', serif" font-style="italic" font-size="15" fill="#000">c</text>
<text transform="matrix(0.0005,-1.3636,1.4654,0,29.678,420.300)" font-family="'Liberation Serif', serif" font-size="22" fill="#000">/</text>
<text transform="matrix(0.0005,-1.1619,1.0583,0,24.551,411.362)" font-family="'Liberation Serif', serif" font-style="italic" font-size="22" fill="#000">W</text>
<text transform="matrix(0.0005,-0.9147,1.0864,0,28.337,390.080)" font-family="'Liberation Serif', serif" font-size="15" fill="#000">0</text>
<text transform="matrix(1.0116,0.0005,0,1.0000,406.162,565.200)" font-family="'Liberation Serif', serif" font-size="20" fill="#000">0</text>
<text transform="matrix(1.0577,0.0005,0,0.9271,474.621,557.470)" font-family="'Liberation Serif', serif" font-style="italic" font-size="14" fill="#000">π</text>
<text transform="matrix(1.0465,0.0005,0,0.9841,475.082,571.662)" font-family="'Liberation Serif', serif" font-size="14" fill="#000">8</text>
<text transform="matrix(1.0577,0.0005,0,0.9271,541.946,557.470)" font-family="'Liberation Serif', serif" font-style="italic" font-size="14" fill="#000">π</text>
<text transform="matrix(0.9677,0.0005,0,1.0065,542.649,571.800)" font-family="'Liberation Serif', serif" font-size="14" fill="#000">4</text>
<text transform="matrix(1.0577,0.0005,0,0.9271,676.596,557.470)" font-family="'Liberation Serif', serif" font-style="italic" font-size="14" fill="#000">π</text>
<text transform="matrix(1.1111,0.0005,0,1.0065,676.948,571.800)" font-family="'Liberation Serif', serif" font-size="14" fill="#000">2</text>
<text transform="matrix(1.0374,0.0005,0,0.9595,605.441,560.166)" font-family="'Liberation Serif', serif" font-size="14" fill="#000">3</text>
<text transform="matrix(1.0577,0.0005,0,0.9119,612.921,560.172)" font-family="'Liberation Serif', serif" font-style="italic" font-size="14" fill="#000">π</text>
<text transform="matrix(1.0714,0.0005,0,0.9735,609.520,574.664)" font-family="'Liberation Serif', serif" font-size="14" fill="#000">8</text>
<text transform="matrix(1.0374,0.0005,0,0.9923,523.663,595.082)" font-family="'Liberation Serif', serif" font-style="italic" font-size="22" fill="#000">θ</text>
<text transform="matrix(1.2814,0.0005,0,0.9909,534.898,598.279)" font-family="'Liberation Serif', serif" font-style="italic" font-size="15" fill="#000">f</text>
<text transform="matrix(1.2033,0.0005,0,1.0264,542.888,598.500)" font-family="'Liberation Serif', serif" font-style="italic" font-size="15" fill="#000">l</text>
<text transform="matrix(1.0442,0.0005,0,1.0638,547.207,598.340)" font-family="'Liberation Serif', serif" font-style="italic" font-size="15" fill="#000">u</text>
<text transform="matrix(1.2016,0.0005,0,1.0556,554.549,598.342)" font-family="'Liberation Serif', serif" font-style="italic" font-size="15" fill="#000">c</text>
<text transform="matrix(1.0000,0.0005,0,1.0556,564.190,598.263)" font-family="'Liberation Serif', serif" font-style="italic" font-size="15" fill="#000">.</text>
<text transform="matrix(0.0005,-1.0240,1.0203,0,369.890,459.563)" font-family="'Liberation Serif', serif" font-style="italic" font-size="22" fill="#000">k</text>
<text transform="matrix(0.0005,-1.1801,0.8889,0,372.857,450.520)" font-family="'Liberation Serif', serif" font-style="italic" font-size="15" fill="#000">b</text>
<text transform="matrix(0.0005,-1.2479,1.0826,0,370.090,443.385)" font-family="'Liberation Serif', serif" font-style="italic" font-size="22" fill="#000">T</text>
<text transform="matrix(0.0005,-1.0041,0.9167,0,373.053,428.752)" font-family="'Liberation Serif', serif" font-style="italic" font-size="15" fill="#000">c</text>
<text transform="matrix(0.0005,-1.3636,1.4654,0,374.668,420.300)" font-family="'Liberation Serif', serif" font-size="22" fill="#000">/</text>
<text transform="matrix(0.0005,-1.1619,1.0583,0,369.541,411.362)" font-family="'Liberation Serif', serif" font-style="italic" font-size="22" fill="#000">W</text>
<text transform="matrix(0.0005,-0.9147,1.0864,0,373.327,390.080)" font-family="'Liberation Serif', serif" font-size="15" fill="#000">0</text>
<rect x="129.10" y="259.05" width="8.80" height="0.90" fill="#000"/>
<rect x="196.43" y="259.05" width="8.80" height="0.90" fill="#000"/>
<rect x="331.08" y="259.05" width="8.80" height="0.90" fill="#000"/>
<rect x="260.71" y="261.95" width="15.30" height="0.90" fill="#000"/>
<rect x="474.09" y="259.05" width="8.80" height="0.90" fill="#000"/>
<rect x="541.42" y="259.05" width="8.80" height="0.90" fill="#000"/>
<rect x="676.07" y="259.05" width="8.80" height="0.90" fill="#000"/>
<rect x="605.70" y="261.95" width="15.30" height="0.90" fill="#000"/>
<rect x="129.10" y="559.65" width="8.80" height="0.90" fill="#000"/>
<rect x="196.43" y="559.65" width="8.80" height="0.90" fill="#000"/>
<rect x="331.08" y="559.65" width="8.80" height="0.90" fill="#000"/>
<rect x="260.71" y="562.55" width="15.30" height="0.90" fill="#000"/>
<rect x="474.09" y="559.65" width="8.80" height="0.90" fill="#000"/>
<rect x="541.42" y="559.65" width="8.80" height="0.90" fill="#000"/>
<rect x="676.07" y="559.65" width="8.80" height="0.90" fill="#000"/>
<rect x="605.70" y="562.55" width="15.30" height="0.90" fill="#000"/>
<line x1="249.5" y1="17.40" x2="290.6" y2="17.40" stroke="#0d98a6" stroke-width="2.4"/>
<circle cx="270.1" cy="17.40" r="2.7" fill="#0d98a6"/>
<line x1="249.5" y1="44.47" x2="290.6" y2="44.47" stroke="#bb0000" stroke-width="2.4"/>
<circle cx="270.1" cy="44.47" r="2.7" fill="#bb0000"/>
<line x1="249.5" y1="71.54" x2="290.6" y2="71.54" stroke="#ef772b" stroke-width="2.4"/>
<circle cx="270.1" cy="71.54" r="2.7" fill="#ef772b"/>
<line x1="249.5" y1="98.61" x2="290.6" y2="98.61" stroke="#f3c432" stroke-width="2.4"/>
<circle cx="270.1" cy="98.61" r="2.7" fill="#f3c432"/>
</svg></body></html>
